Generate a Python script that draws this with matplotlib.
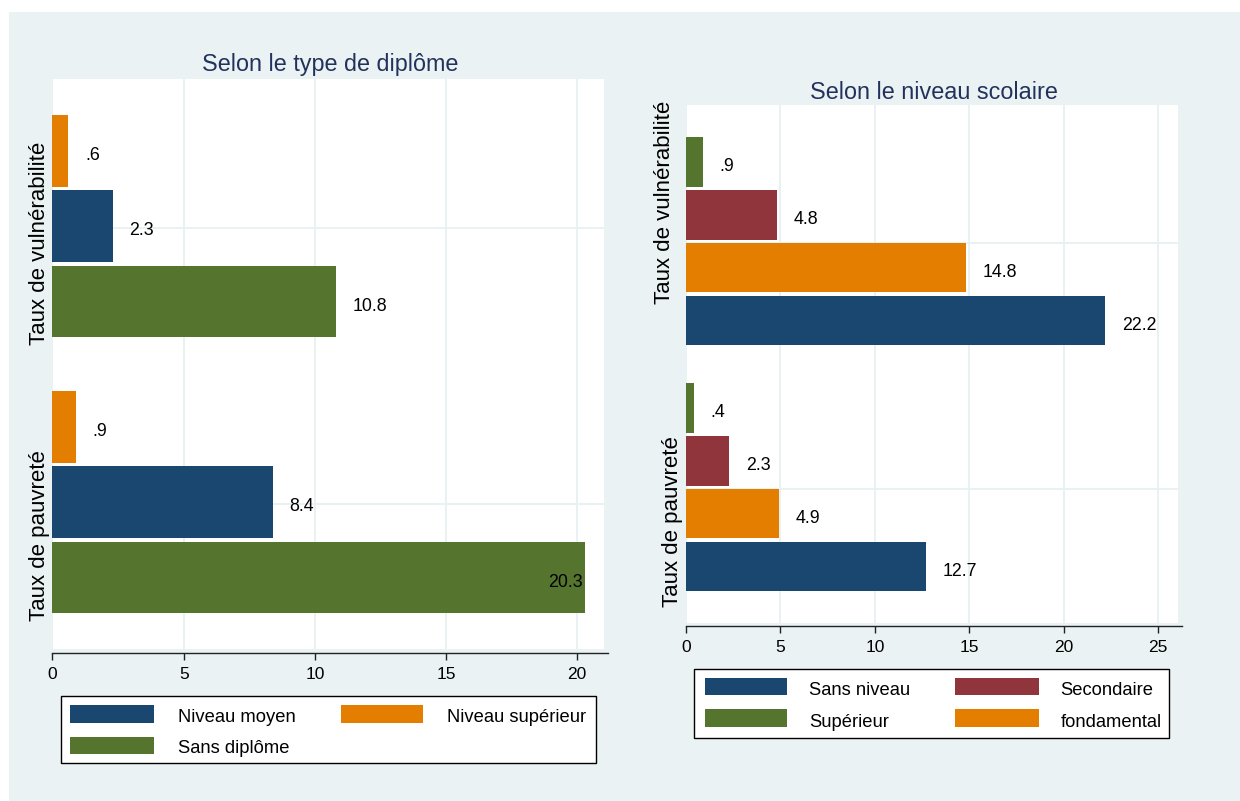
import matplotlib
matplotlib.use('Agg')
import matplotlib.pyplot as plt
from matplotlib.patches import Rectangle
import numpy as np

plt.rcParams['font.family'] = ['Liberation Sans', 'DejaVu Sans']

# ---------------- data ----------------
groups = ['Taux de vulnérabilité', 'Taux de pauvreté']

left_title = 'Selon le type de diplôme'
left_series = ['Niveau supérieur', 'Niveau moyen', 'Sans diplôme']   # top -> bottom in each group
left_vuln = [0.6, 2.3, 10.8]
left_pauv = [0.9, 8.4, 20.3]
left_ticks = [0, 5, 10, 15, 20]
left_legend_order = ['Niveau moyen', 'Niveau supérieur', 'Sans diplôme']

right_title = 'Selon le niveau scolaire'
right_series = ['Supérieur', 'Secondaire', 'fondamental', 'Sans niveau']
right_vuln = [0.9, 4.8, 14.8, 22.2]
right_pauv = [0.4, 2.3, 4.9, 12.7]
right_ticks = [0, 5, 10, 15, 20, 25]
right_legend_order = ['Sans niveau', 'Secondaire', 'Supérieur', 'fondamental']

# ---------------- style ----------------
NAVY = '#1A476F'
MAROON = '#90353B'
GREEN = '#55752F'
ORANGE = '#E37E00'
BG = '#EAF2F3'
GRID = '#E8F0F2'
TITLE_C = '#22325A'

left_colors = {'Niveau supérieur': ORANGE, 'Niveau moyen': NAVY, 'Sans diplôme': GREEN}
right_colors = {'Supérieur': GREEN, 'Secondaire': MAROON, 'fondamental': ORANGE, 'Sans niveau': NAVY}

W, H = 1240, 801
fig = plt.figure(figsize=(W / 100, H / 100), dpi=100)
fig.patch.set_facecolor('white')


def fx(x):
    return x / W


def fy(y):
    return 1 - y / H


fig.add_artist(Rectangle((fx(9), 0), 1 - fx(9), fy(12), transform=fig.transFigure,
                         facecolor=BG, edgecolor='none', zorder=-10))


def fmt(v):
    s = f'{v:.1f}'
    if s.startswith('0.'):
        s = s[1:]
    return s


def panel(rect_px, series, colors, vals_by_group, xmax, ticks, spine_end,
          group_offset, bar_h, pad_top, pad_bot, grid_s, spine_out):
    l, t, r, b = rect_px
    ax = fig.add_axes([fx(l), fy(b), fx(r) - fx(l), (b - t) / H])
    ax.set_facecolor('white')
    n = len(series)
    labels = []
    for g, vals in enumerate(vals_by_group):
        pos = g * group_offset + np.arange(n)
        ax.barh(pos, vals, height=bar_h, color=[colors[s] for s in series],
                edgecolor='none', zorder=3)
        for p, v in zip(pos, vals):
            a = ax.annotate(fmt(v), xy=(v, p), xytext=(12, -3.5),
                            textcoords='offset points', ha='left', va='center',
                            fontsize=12.8, color='black', zorder=5)
            labels.append((a, v, p))
        ax.axhline(g * group_offset + grid_s, color=GRID, lw=1.3, zorder=1)
    ax.set_xlim(0, xmax)
    ax.set_ylim(group_offset + n - 1 + pad_bot, -pad_top)
    ax.set_yticks([])
    ax.set_xticks(ticks)
    ax.set_xticklabels([str(k) for k in ticks])
    ax.grid(axis='x', color=GRID, lw=1.3, zorder=1)
    ax.set_axisbelow(True)
    for sp in ['top', 'right', 'left']:
        ax.spines[sp].set_visible(False)
    ax.spines['bottom'].set_position(('outward', spine_out))
    ax.spines['bottom'].set_bounds(0, spine_end)
    ax.spines['bottom'].set_linewidth(1.0)
    ax.spines['bottom'].set_color('#222222')
    ax.tick_params(axis='x', length=5, width=1.0, color='#222222', pad=5,
                   labelsize=12.5, labelcolor='black')
    return ax, labels


# left panel
axL, labL = panel((52.5, 79, 604, 649), left_series, left_colors, [left_vuln, left_pauv],
                  21.02, left_ticks, 21.17, 3.665, 0.95, 0.953, 0.95, 1.03, 2.7)
# right panel
axR, labR = panel((686, 105, 1177.7, 622.7), right_series, right_colors, [right_vuln, right_pauv],
                  26.03, right_ticks, 26.24, 4.66, 0.935, 1.08, 1.064, 1.53, 2.5)

# push labels that overflow the plot area inside the bar end
fig.canvas.draw()
ren = fig.canvas.get_renderer()
for ax, labs in [(axL, labL), (axR, labR)]:
    axbb = ax.get_window_extent(ren)
    for a, v, p in labs:
        bb = a.get_window_extent(ren)
        if bb.x1 > axbb.x1:
            a.set_position((-1.5, -3.5))
            a.set_ha('right')

# titles
fig.text(fx(330), fy(71.5), left_title, ha='center', va='baseline', fontsize=16.8, color=TITLE_C)
fig.text(fx(934), fy(99.3), right_title, ha='center', va='baseline', fontsize=16.8, color=TITLE_C)

# group (category) labels
for x, y, s in [(45, 243.5, groups[0]), (45.5, 536, groups[1]),
                (670.5, 202, groups[0]), (678, 521.5, groups[1])]:
    fig.text(fx(x), fy(y), s, rotation=90, rotation_mode='anchor', ha='center',
             va='baseline', fontsize=16, color='black')


def legend_box(box, entries):
    x0, y0, x1, y1 = box
    fig.add_artist(Rectangle((fx(x0), fy(y1)), fx(x1) - fx(x0), (y1 - y0) / H,
                             transform=fig.transFigure, facecolor='white',
                             edgecolor='black', lw=1.0, zorder=5))
    for (sx0, sy0, sx1, sy1, tx, tb, color, label) in entries:
        fig.add_artist(Rectangle((fx(sx0), fy(sy1)), fx(sx1) - fx(sx0), (sy1 - sy0) / H,
                                 transform=fig.transFigure, facecolor=color,
                                 edgecolor='none', zorder=6))
        fig.text(fx(tx), fy(tb), label, ha='left', va='baseline', fontsize=13.2,
                 color='black', zorder=7)


# left legend layout: (swatch x0,y0,x1,y1, text x, text baseline)
left_slots = [(70, 705, 154, 722.7, 177.7, 721.5),
              (340.7, 705, 423, 722.7, 447, 721.5),
              (70, 736.7, 154, 754, 177.7, 753)]
legend_box((61, 695.7, 596, 762.7),
           [slot + (left_colors[name], name) for slot, name in zip(left_slots, left_legend_order)])

right_slots = [(705, 678.3, 787.3, 695, 809.3, 695),
               (955, 678.3, 1039, 695, 1060.7, 695),
               (705, 709.3, 787.3, 726.7, 809.3, 727),
               (955, 709.3, 1039, 726.7, 1060.7, 727)]
legend_box((694, 669.3, 1169.3, 737.7),
           [slot + (right_colors[name], name) for slot, name in zip(right_slots, right_legend_order)])

fig.savefig('out.png', dpi=100, facecolor=fig.get_facecolor())
